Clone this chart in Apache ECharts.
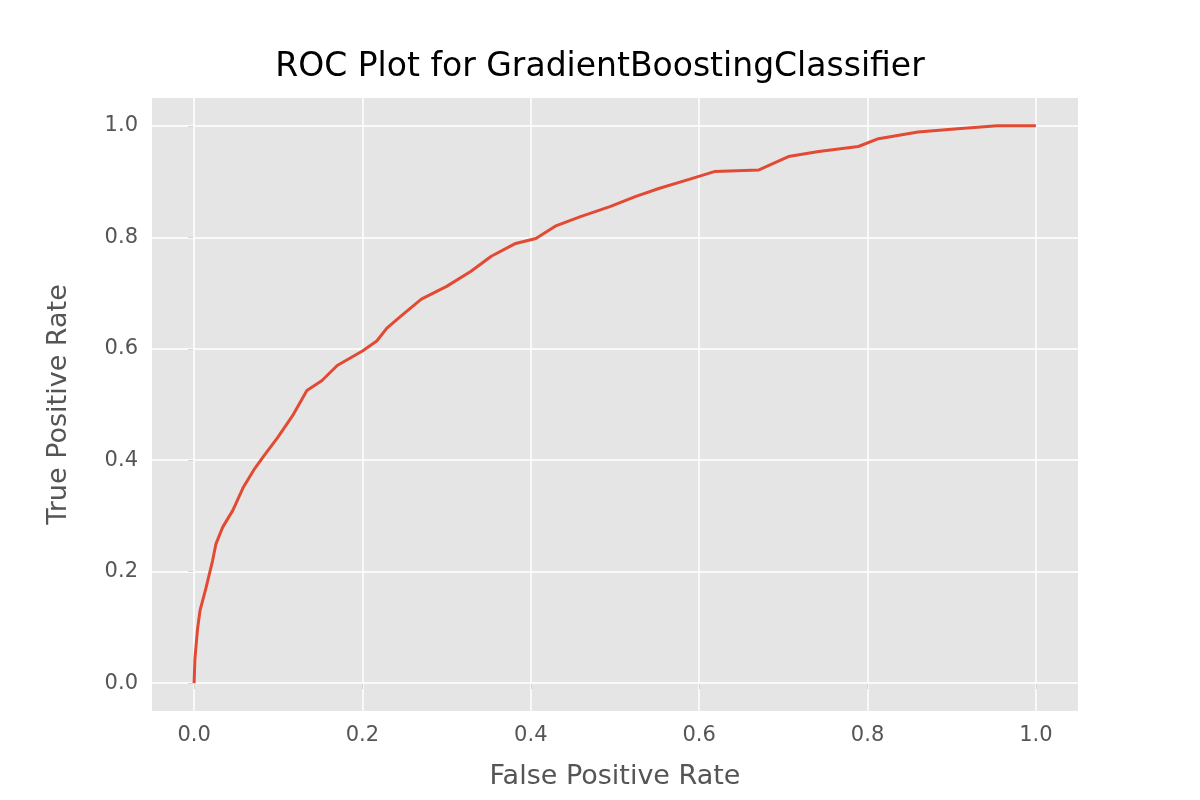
<!DOCTYPE html>
<html><head><meta charset="utf-8">
<script src="https://cdn.jsdelivr.net/npm/echarts@6/dist/echarts.min.js"></script>
<style>html,body{margin:0;background:#fff}#c{width:1200px;height:800px}</style>
</head><body><div id="c"></div>
<script>
const fpr=[0,0.001,0.004,0.007,0.014,0.022,0.026,0.034,0.046,0.058,0.072,0.084,0.099,0.117,0.134,0.152,0.17,0.2,0.217,0.229,0.246,0.27,0.3,0.329,0.353,0.382,0.406,0.429,0.459,0.494,0.524,0.553,0.588,0.618,0.671,0.706,0.742,0.789,0.813,0.86,0.907,0.954,1];
const tpr=[0,0.043,0.096,0.13,0.17,0.22,0.25,0.28,0.31,0.35,0.385,0.41,0.44,0.48,0.525,0.543,0.57,0.596,0.614,0.637,0.659,0.689,0.712,0.739,0.766,0.789,0.798,0.82,0.837,0.855,0.873,0.888,0.904,0.918,0.921,0.945,0.954,0.963,0.977,0.989,0.995,1,1];
const ticks=[0,0.2,0.4,0.6,0.8,1];
const chart=echarts.init(document.getElementById('c'));
const lab={color:'#555',fontSize:21,fontFamily:'DejaVu Sans',formatter:v=>v.toFixed(1)};
chart.setOption({
 animation:false,
 title:{text:'ROC Plot for GradientBoostingClassifier',left:'center',top:46,textStyle:{fontSize:33,fontWeight:'normal',color:'#000',fontFamily:'DejaVu Sans'}},
 grid:{left:152,right:122,top:98,bottom:89,show:true,backgroundColor:'#E5E5E5',borderWidth:0},
 xAxis:{type:'value',min:-0.05,max:1.05,name:'False Positive Rate',nameLocation:'middle',nameGap:52,
  nameTextStyle:{color:'#555',fontSize:27,fontFamily:'DejaVu Sans'},
  axisLabel:{...lab,margin:14,customValues:ticks},
  axisTick:{show:true,customValues:ticks,lineStyle:{color:'#555'},length:6},
  axisLine:{show:false},splitLine:{show:false}},
 yAxis:{type:'value',min:-0.05,max:1.05,name:'True Positive Rate',nameLocation:'middle',nameGap:80,
  nameTextStyle:{color:'#555',fontSize:27,fontFamily:'DejaVu Sans'},
  axisLabel:{...lab,margin:14,customValues:ticks},
  axisTick:{show:true,customValues:ticks,lineStyle:{color:'#555'},length:6},
  axisLine:{show:false},splitLine:{show:false}},
 series:[
  {type:'line',data:fpr.map((x,i)=>[x,tpr[i]]),showSymbol:false,lineStyle:{color:'#E24A33',width:3},z:5},
  {type:'line',data:[],markLine:{silent:true,symbol:'none',label:{show:false},lineStyle:{color:'#fff',width:1.5,type:'solid'},
   data:ticks.map(v=>({xAxis:v})).concat(ticks.map(v=>({yAxis:v})))},z:1}
 ]
});
</script></body></html>
